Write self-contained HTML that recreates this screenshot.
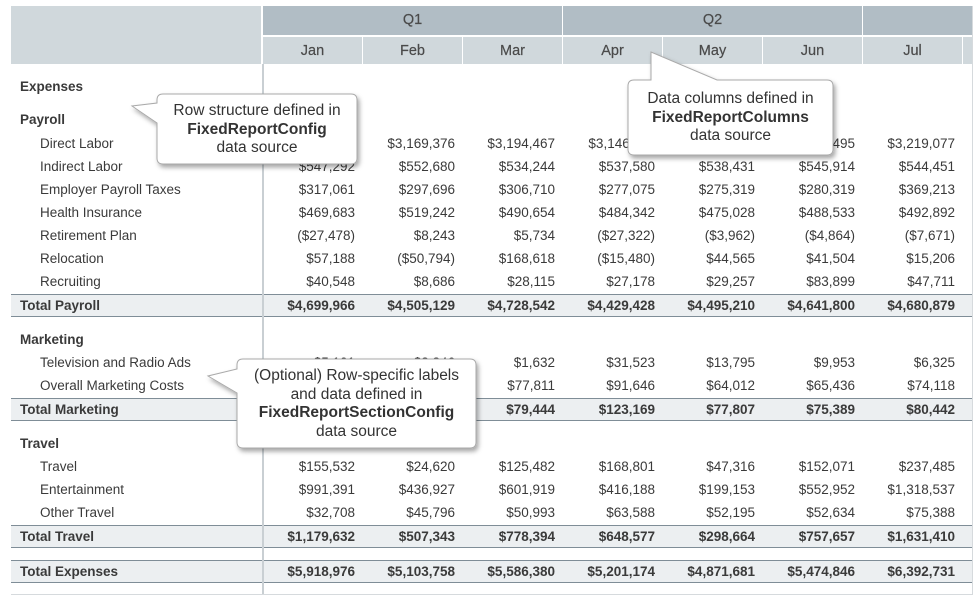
<!DOCTYPE html>
<html><head><meta charset="utf-8"><style>
*{margin:0;padding:0;box-sizing:border-box}
body{width:976px;height:598px;background:#fff;font-family:"Liberation Sans",Arial,sans-serif;font-size:13.5px;color:#3a3a3a;position:relative;overflow:hidden}
.a{position:absolute}
.h{background:#d0d8dc;color:#4a4a4a;text-align:center;line-height:28px;font-size:14.5px;-webkit-text-stroke:0.2px #4a4a4a}
.q{background:#b1bdc5;color:#4a4a4a;text-align:center;line-height:29px;font-size:14.5px;-webkit-text-stroke:0.2px #4a4a4a}
.row{position:absolute;left:11px;width:961px;height:23px;line-height:23px}
.band{background:#eceff1;border-top:1px solid #7f8d97;border-bottom:1px solid #7f8d97;line-height:21px}
.lb{position:absolute;left:9px}
.it{left:29px}
.b{font-weight:bold;color:#3a3a3a}
.v{position:absolute;width:100px;text-align:right;padding-right:8px}
.ct{position:absolute;text-align:center;font-size:15.5px;line-height:18.5px;color:#333}
.ct b{font-weight:bold}
</style></head><body>
<!-- headers -->
<div class="a h" style="left:11px;top:6px;width:250px;height:58px"></div>
<div class="a q" style="left:263px;top:6px;width:299px;height:29px">Q1</div>
<div class="a q" style="left:563px;top:6px;width:299px;height:29px">Q2</div>
<div class="a q" style="left:863px;top:6px;width:109px;height:29px"></div>
<div class="a h" style="left:263px;top:37px;width:99px;height:27px">Jan</div>
<div class="a h" style="left:363px;top:37px;width:99px;height:27px">Feb</div>
<div class="a h" style="left:463px;top:37px;width:99px;height:27px">Mar</div>
<div class="a h" style="left:563px;top:37px;width:99px;height:27px">Apr</div>
<div class="a h" style="left:663px;top:37px;width:99px;height:27px">May</div>
<div class="a h" style="left:763px;top:37px;width:99px;height:27px">Jun</div>
<div class="a h" style="left:863px;top:37px;width:99px;height:27px">Jul</div>
<div class="a h" style="left:963px;top:37px;width:9px;height:27px"></div>
<div class="a" style="left:972px;top:6px;width:1px;height:589px;background:#d6dadd"></div>
<div class="a" style="left:11px;top:594px;width:962px;height:1px;background:#d6dadd"></div>
<div id="body"></div>
<div class="a" style="left:262px;top:64px;width:1.5px;height:530px;background:#c9cfd3"></div>

<!-- callouts -->
<svg class="a" style="left:0;top:0" width="976" height="598">
<defs><filter id="sh" x="-20%" y="-20%" width="140%" height="150%"><feDropShadow dx="2" dy="3" stdDeviation="2.5" flood-color="#000" flood-opacity="0.35"/></filter></defs>
<g fill="#fff" stroke="#aaa" stroke-width="1" filter="url(#sh)">
<path d="M163,94 H351 Q357,94 357,100 V158 Q357,164 351,164 H163 Q157,164 157,158 V123 L132,106 L157,103 V100 Q157,94 163,94 Z"/>
<path d="M634,80 H651 L651,52 L717,80 H827 Q833,80 833,86 V149 Q833,155 827,155 H634 Q628,155 628,149 V86 Q628,80 634,80 Z"/>
<path d="M243,359 H470 Q476,359 476,365 V442 Q476,448 470,448 H243 Q237,448 237,442 V393 L208,376 L237,369 V365 Q237,359 243,359 Z"/>
</g></svg>
<div class="ct" style="left:157px;top:102px;width:200px">Row structure defined in<br><b>FixedReportConfig</b><br>data source</div>
<div class="ct" style="left:628px;top:90px;width:205px">Data columns defined in<br><b>FixedReportColumns</b><br>data source</div>
<div class="ct" style="left:237px;top:367px;width:239px">(Optional) Row-specific labels<br>and data defined in<br><b>FixedReportSectionConfig</b><br>data source</div>

<script>
const rows=[
[75,'Expenses','s'],
[108,'Payroll','s'],
[132,'Direct Labor','i',['$3,137,892','$3,169,376','$3,194,467','$3,146,117','$3,177,452','$3,216,495','$3,219,077']],
[155,'Indirect Labor','i',['$547,292','$552,680','$534,244','$537,580','$538,431','$545,914','$544,451']],
[178,'Employer Payroll Taxes','i',['$317,061','$297,696','$306,710','$277,075','$275,319','$280,319','$369,213']],
[201,'Health Insurance','i',['$469,683','$519,242','$490,654','$484,342','$475,028','$488,533','$492,892']],
[224,'Retirement Plan','i',['($27,478)','$8,243','$5,734','($27,322)','($3,962)','($4,864)','($7,671)']],
[247,'Relocation','i',['$57,188','($50,794)','$168,618','($15,480)','$44,565','$41,504','$15,206']],
[270,'Recruiting','i',['$40,548','$8,686','$28,115','$27,178','$29,257','$83,899','$47,711']],
[294,'Total Payroll','t',['$4,699,966','$4,505,129','$4,728,542','$4,429,428','$4,495,210','$4,641,800','$4,680,879']],
[328,'Marketing','s'],
[351,'Television and Radio Ads','i',['$5,101','$3,346','$1,632','$31,523','$13,795','$9,953','$6,325']],
[374,'Overall Marketing Costs','i',['$70,221','$66,130','$77,811','$91,646','$64,012','$65,436','$74,118']],
[398,'Total Marketing','t',['$75,322','$69,476','$79,444','$123,169','$77,807','$75,389','$80,442']],
[432,'Travel','s'],
[455,'Travel','i',['$155,532','$24,620','$125,482','$168,801','$47,316','$152,071','$237,485']],
[478,'Entertainment','i',['$991,391','$436,927','$601,919','$416,188','$199,153','$552,952','$1,318,537']],
[501,'Other Travel','i',['$32,708','$45,796','$50,993','$63,588','$52,195','$52,634','$75,388']],
[525,'Total Travel','t',['$1,179,632','$507,343','$778,394','$648,577','$298,664','$757,657','$1,631,410']],
[560,'Total Expenses','t',['$5,918,976','$5,103,758','$5,586,380','$5,201,174','$4,871,681','$5,474,846','$6,392,731']],
];
let h='';
for(const [y,l,t,v] of rows){
 const band=t=='t';
 h+=`<div class="row${band?' band':''}" style="top:${y}px">`;
 h+=`<span class="lb${t=='i'?' it':''}${t!='i'?' b':''}">${l}</span>`;
 if(v)v.forEach((s,i)=>{h+=`<span class="v${band?' b':''}" style="left:${252+i*100}px">${s}</span>`});
 h+='</div>';
}
document.getElementById('body').innerHTML=h;
</script>
</body></html>
